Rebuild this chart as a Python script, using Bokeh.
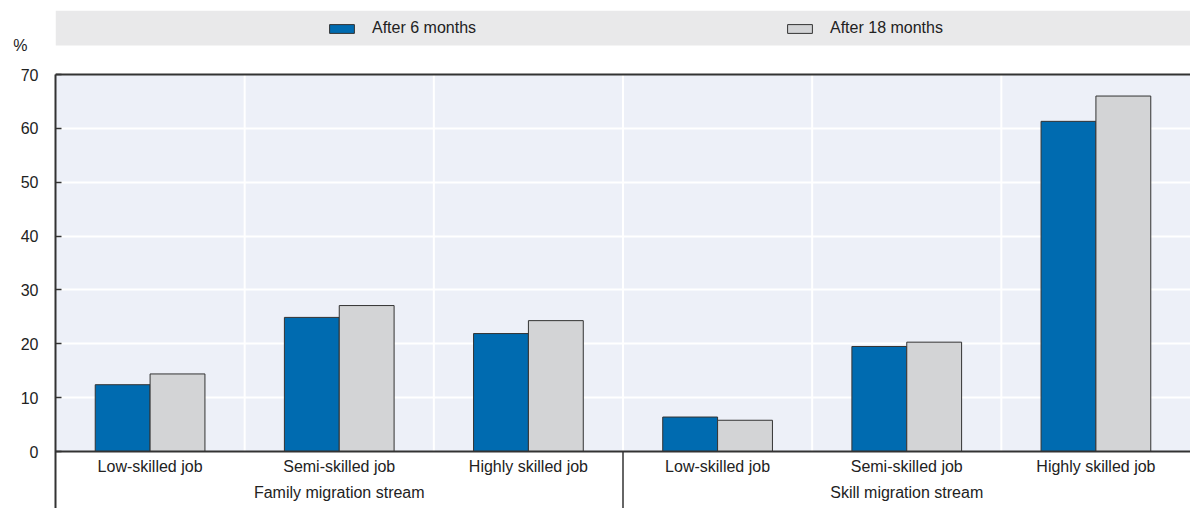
from bokeh.plotting import figure
from bokeh.models import (ColumnDataSource, FactorRange, Range1d, FixedTicker, Legend, LegendItem,
                          BoxAnnotation, Span, CategoricalAxis, LinearAxis)
from bokeh.transform import dodge
from bokeh.embed import file_html
from bokeh.resources import INLINE

# ---- data ----
streams = ["Family migration stream", "Skill migration stream"]
jobs = ["Low-skilled job", "Semi-skilled job", "Highly skilled job"]
after_6_months = [12.4, 24.9, 21.9, 6.4, 19.5, 61.3]
after_18_months = [14.4, 27.1, 24.3, 5.8, 20.3, 66.0]
y_ticks = [0, 10, 20, 30, 40, 50, 60, 70]
series_names = ["After 6 months", "After 18 months"]
unit_label = "%"

BLUE = "#006bb0"
GREY = "#d3d4d6"
EDGE = "#333333"
TEXT = "#222222"
FONT = "Liberation Sans"

factors = [(s, j) for s in streams for j in jobs]
src = ColumnDataSource(dict(x=factors, a=after_6_months, b=after_18_months))

# layout (pixels on the page) -> data range of the frame
FRAME_TOP, FRAME_BOTTOM, ZERO_Y, TOP_Y = 10, 508, 451, 74
px_per_unit = (ZERO_Y - TOP_Y) / 70.0
y_top = (ZERO_Y - FRAME_TOP) / px_per_unit
y_bot = -(FRAME_BOTTOM - ZERO_Y) / px_per_unit
unit_y = (ZERO_Y - 45) / px_per_unit

xr = FactorRange(*factors, factor_padding=0, subgroup_padding=0, group_padding=0, range_padding=0)
p = figure(x_range=xr, y_range=Range1d(y_bot, y_top), frame_width=1135,
           frame_height=FRAME_BOTTOM - FRAME_TOP,
           min_border_left=55, min_border_right=0, min_border_top=FRAME_TOP, min_border_bottom=0,
           output_backend="svg", toolbar_location=None, x_axis_location=None)
p.outline_line_color = None
p.background_fill_color = "white"
p.border_fill_color = "white"
p.xgrid.visible = False

# plot-area background
p.add_layout(BoxAnnotation(bottom=0, top=70, fill_color="#edf0f8", fill_alpha=1,
                           line_color=None, level="image"))
# legend band
p.add_layout(BoxAnnotation(bottom=(ZERO_Y - 45) / px_per_unit, fill_color="#e9e9ea", fill_alpha=1,
                           line_color=None, level="image"))

# horizontal grid
p.ygrid.ticker = FixedTicker(ticks=y_ticks[1:-1])
p.ygrid.grid_line_color = "white"
p.ygrid.grid_line_width = 2

# vertical grid at category boundaries
bsrc = ColumnDataSource(dict(x=factors[:-1]))
p.segment(x0=dodge("x", 0.5, range=xr), x1=dodge("x", 0.5, range=xr), y0=0, y1=70,
          source=bsrc, line_color="white", line_width=2, level="underlay")
# separator between streams below the axis
ssrc = ColumnDataSource(dict(x=[(streams[0], jobs[-1])]))
p.segment(x0=dodge("x", 0.5, range=xr), x1=dodge("x", 0.5, range=xr), y0=y_bot, y1=0,
          source=ssrc, line_color=EDGE, line_width=1.5)

r1 = p.vbar(x=dodge("x", -0.145, range=xr), top="a", width=0.29, bottom=0, source=src,
            fill_color=BLUE, line_color=EDGE, line_width=1)
r2 = p.vbar(x=dodge("x", 0.145, range=xr), top="b", width=0.29, bottom=0, source=src,
            fill_color=GREY, line_color=EDGE, line_width=1)

# top line of plot area
p.add_layout(Span(location=70, dimension="width", line_color=EDGE, line_width=2))

# y axis
yax = p.yaxis[0]
yax.ticker = FixedTicker(ticks=y_ticks)
yax.bounds = (y_bot, 70)
yax.axis_line_color = EDGE
yax.axis_line_width = 2
yax.major_tick_in = 6
yax.major_tick_out = 0
yax.major_tick_line_color = EDGE
yax.major_tick_line_width = 1.5
yax.minor_tick_line_color = None
yax.major_label_standoff = 17
yax.major_label_text_font = FONT
yax.major_label_text_font_size = "16px"
yax.major_label_text_color = TEXT

# unit label "%" as an outer, line-less axis with a single labelled tick
uax = LinearAxis(ticker=FixedTicker(ticks=[unit_y]),
                 major_label_overrides={unit_y: unit_label})
uax.axis_line_color = None
uax.major_tick_line_color = None
uax.minor_tick_line_color = None
uax.major_tick_in = 0
uax.major_tick_out = 0
uax.major_label_standoff = -10
uax.major_label_text_font = FONT
uax.major_label_text_font_size = "16px"
uax.major_label_text_color = TEXT
p.add_layout(uax, "left")

# x axis at y = 0
xax = CategoricalAxis(fixed_location=0)
xax.axis_line_color = EDGE
xax.axis_line_width = 2
xax.major_tick_line_color = None
xax.major_tick_in = 0
xax.major_tick_out = 0
xax.minor_tick_line_color = None
xax.separator_line_color = None
xax.major_label_standoff = 6
xax.major_label_text_font = FONT
xax.major_label_text_font_size = "16px"
xax.major_label_text_color = TEXT
xax.group_text_font = FONT
xax.group_text_font_size = "16px"
xax.group_text_font_style = "normal"
xax.group_text_color = TEXT
p.add_layout(xax, "below")

legend = Legend(items=[LegendItem(label=series_names[0], renderers=[r1]),
                       LegendItem(label=series_names[1], renderers=[r2])],
                location=(271, FRAME_BOTTOM - 37), orientation="horizontal",
                glyph_width=31, glyph_height=11, label_height=15, label_width=120,
                label_standoff=15, spacing=292, padding=0, margin=0,
                background_fill_alpha=0, border_line_color=None,
                label_text_font=FONT, label_text_font_size="16px", label_text_color=TEXT)
p.add_layout(legend)

open("out.html", "w").write(file_html(p, INLINE))
